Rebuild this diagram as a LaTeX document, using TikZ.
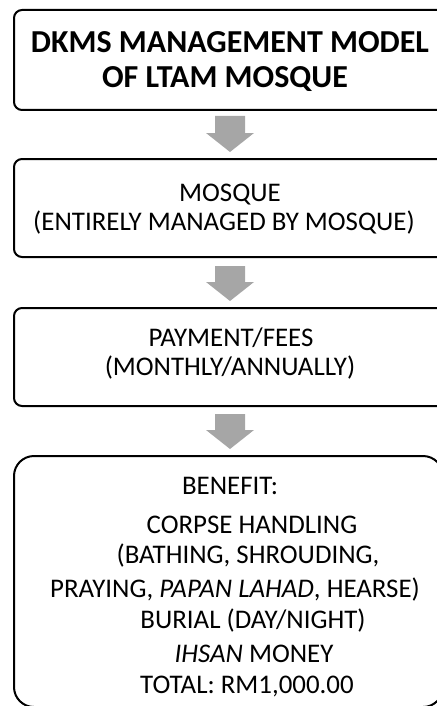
\documentclass[tikz,border=0pt]{standalone}
\usepackage{fontspec}
\setmainfont{Carlito}
\usetikzlibrary{calc}
\definecolor{arrowgray}{RGB}{166,166,166}
\tikzset{
  box/.style={draw=black, line width=2pt, rounded corners=8pt, minimum width=432pt, inner sep=0pt},
  bigbox/.style={box, rounded corners=20pt, minimum width=429pt},
  titletxt/.style={font=\fontsize{32}{36}\selectfont\bfseries, anchor=base, inner sep=0pt},
  txt/.style={font=\fontsize{26.9}{30}\selectfont, anchor=base, inner sep=0pt},
  arrowfill/.style={fill=arrowgray}
}
\newcommand\blockarrow[3]{%
  \path (#1.south) ++(0,-#3) coordinate (#1-top);
  \path (#1.south |- #2.north) ++(0,6) coordinate (#1-tip);
  \fill[arrowfill] ($(#1-top)+(-15,0)$) -- ($(#1-top)+(15,0)$) -- ($(#1-tip)+(15,19)$)
    -- ($(#1-tip)+(24,19)$) -- (#1-tip) -- ($(#1-tip)+(-24,19)$) -- ($(#1-tip)+(-15,19)$) -- cycle;
}
\begin{document}
\begin{tikzpicture}[x=1pt,y=1pt]
\useasboundingbox (0,0) rectangle (436,-706);
% boxes
\node[box, minimum height=100pt] (b1) at (230,-60) {};
\node[box, minimum height=98pt] (b2) at (230,-208) {};
\node[box, minimum height=98pt] (b3) at (230,-357) {};
\node[bigbox, minimum height=251pt] (b4) at (228.5,-581.5) {};
% texts
\node[titletxt] (t1a) at (230,-53) {DKMS MANAGEMENT MODEL};
\node[titletxt] (t1b) at (225,-88) {OF LTAM MOSQUE};
\node[txt] (t2a) at (230,-201) {MOSQUE};
\node[txt] (t2b) at (224,-230) {(ENTIRELY MANAGED BY MOSQUE)};
\node[txt] (t3a) at (231,-346) {PAYMENT/FEES};
\node[txt] (t3b) at (230,-375) {(MONTHLY/ANNUALLY)};
\node[txt] (t4a) at (230,-494) {BENEFIT:};
\node[txt] (t4b) at (252,-533) {CORPSE HANDLING};
\node[txt] (t4c) at (248,-563) {(BATHING, SHROUDING,};
\node[txt] (t4d) at (235,-597) {PRAYING, \textit{PAPAN LAHAD}, HEARSE)};
\node[txt] (t4e) at (253,-628) {BURIAL (DAY/NIGHT)};
\node[txt] (t4f) at (254,-662) {\textit{IHSAN} MONEY};
\node[txt] (t4g) at (247,-693) {TOTAL: RM1,000.00};
% arrows
\blockarrow{b1}{b2}{5}
\blockarrow{b2}{b3}{8}
\blockarrow{b3}{b4}{7}
\end{tikzpicture}
\end{document}
